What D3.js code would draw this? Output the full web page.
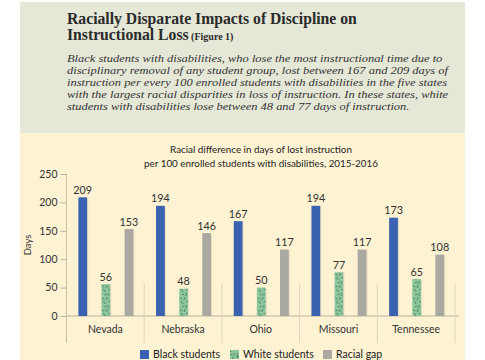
<!DOCTYPE html>
<html>
<head>
<meta charset="utf-8">
<script src="https://cdn.jsdelivr.net/npm/d3@7"></script>
<style>
  body { margin: 0; background: #fff; }
  svg { display: block; }
</style>
</head>
<body>
<div id="chart"></div>
<script>
// data
const states = ["Nevada", "Nebraska", "Ohio", "Missouri", "Tennessee"];
const black = [209, 194, 167, 194, 173];
const white = [56, 48, 50, 77, 65];
const gap = [153, 146, 117, 117, 108];
const yTicks = [0, 50, 100, 150, 200, 250];
const seriesNames = ["Black students", "White students", "Racial gap"];

const subtitle = [
  "Black students with disabilities, who lose the most instructional time due to",
  "disciplinary removal of any student group, lost between 167 and 209 days of",
  "instruction per every 100 enrolled students with disabilities in the five states",
  "with the largest racial disparities in loss of instruction. In these states, white",
  "students with disabilities lose between 48 and 77 days of instruction."
];

const W = 485, H = 360;
const sans = "Lato, 'Open Sans', sans-serif";
const serif = "'Liberation Serif', 'DejaVu Serif', serif";

const svg = d3.select("#chart").append("svg")
  .attr("width", W).attr("height", H);

// fit text to a target width
function fit(sel, w) {
  const n = sel.node();
  const fs = parseFloat(sel.attr("font-size"));
  const len = n.getComputedTextLength();
  sel.attr("font-size", fs * w / len);
}

// panels
svg.append("rect").attr("x", 20).attr("y", 2).attr("width", 445).attr("height", 131)
  .attr("fill", "#e5e7d7");
svg.append("rect").attr("x", 20).attr("y", 133).attr("width", 445).attr("height", 227)
  .attr("fill", "#fdf2d2");

// title
const t1 = svg.append("text").attr("x", 67).attr("y", 24)
  .attr("font-family", serif).attr("font-weight", "bold").attr("font-size", 16)
  .attr("fill", "#2a2a2a").text("Racially Disparate Impacts of Discipline on");
fit(t1, 290);
const t2 = svg.append("text").attr("x", 67).attr("y", 40)
  .attr("font-family", serif).attr("font-weight", "bold").attr("font-size", t1.attr("font-size"))
  .attr("fill", "#2a2a2a");
t2.append("tspan").text("Instructional Loss");
t2.append("tspan").attr("font-size", 10).text(" (Figure 1)");

// subtitle: fixed size, stretched horizontally to the reference width
const sub = svg.append("g");
const subLines = sub.selectAll("text").data(subtitle).enter().append("text")
  .attr("x", 0).attr("y", (d, i) => 62.5 + i * 11.8)
  .attr("font-family", serif).attr("font-style", "italic").attr("font-size", 11.2)
  .attr("fill", "#333").text(d => d);
const sx = 381 / subLines.nodes()[1].getComputedTextLength();
sub.attr("transform", `translate(67,0) scale(${sx},1)`);

// chart heading
const h1 = svg.append("text").attr("x", 261).attr("y", 153).attr("text-anchor", "middle")
  .attr("font-family", sans).attr("font-size", 9).attr("fill", "#1e1e1e")
  .text("Racial difference in days of lost instruction");
fit(h1, 182);
const h2 = svg.append("text").attr("x", 261).attr("y", 167).attr("text-anchor", "middle")
  .attr("font-family", sans).attr("font-size", h1.attr("font-size")).attr("fill", "#1e1e1e")
  .text("per 100 enrolled students with disabilities, 2015-2016");

// scales
const x0 = d3.scaleBand().domain(states).range([66.5, 455]).padding(0);
const x1 = d3.scaleBand().domain(seriesNames).range([0, 55]).paddingInner(0.62).paddingOuter(0);
const y = d3.scaleLinear().domain([0, 250]).range([316, 174]);
const colors = ["#3a62b1", "#8dc69c", "#a9a8a1"];

// pattern for the white students bars
const defs = svg.append("defs");
const pat = defs.append("pattern").attr("id", "speck").attr("patternUnits", "userSpaceOnUse")
  .attr("width", 12).attr("height", 12);
pat.append("rect").attr("width", 12).attr("height", 12).attr("fill", colors[1]);
const specks = [[1,1,3,4],[6,2,8,1],[9,5,10,9],[2,7,4,6],[5,9,4,12],[8,8,11,10],[0,10,2,11],[6,5,6,8]];
specks.forEach(s => pat.append("line").attr("x1", s[0]).attr("y1", s[1]).attr("x2", s[2]).attr("y2", s[3])
  .attr("stroke", "#3a7550").attr("stroke-width", 0.8));

// axes
const ax = svg.append("g").attr("transform", "translate(66.5,0)")
  .call(d3.axisLeft(y).tickValues(yTicks).tickSize(6).tickPadding(3));
ax.select(".domain").remove();
ax.selectAll("line").attr("stroke", "#b9b3a0");
ax.selectAll("text").attr("font-family", sans).attr("font-size", 10.5).attr("fill", "#333");
svg.append("line").attr("x1", 66.5).attr("x2", 66.5).attr("y1", 174).attr("y2", 343)
  .attr("stroke", "#c9c2ad");
svg.append("line").attr("x1", 66.5).attr("x2", 459).attr("y1", y(0)).attr("y2", y(0))
  .attr("stroke", "#b9b3a0");
svg.append("text").attr("transform", "translate(31,245) rotate(-90)").attr("text-anchor", "middle")
  .attr("font-family", sans).attr("font-size", 9.5).attr("fill", "#333").text("Days");

// category separators
svg.selectAll(".sep").data(states).enter().append("line")
  .attr("x1", d => x0(d) + x0.bandwidth())
  .attr("x2", d => x0(d) + x0.bandwidth())
  .attr("y1", 283).attr("y2", 343).attr("stroke", "#ddd6c0");

// bars
const rows = states.map((s, i) => ({ state: s, vals: [black[i], white[i], gap[i]] }));
const groups = svg.selectAll(".grp").data(rows).enter().append("g")
  .attr("transform", d => `translate(${x0(d.state) + (x0.bandwidth() - 55) / 2 + 0.5},0)`);

groups.selectAll(".shadow").data(d => d.vals).enter().append("rect")
  .attr("x", (d, i) => x1(seriesNames[i]) + 1.2).attr("y", d => y(d) + 1)
  .attr("width", x1.bandwidth()).attr("height", d => y(0) - y(d) - 1)
  .attr("fill", "#000").attr("opacity", 0.07);
groups.selectAll(".bar").data(d => d.vals).enter().append("rect")
  .attr("x", (d, i) => x1(seriesNames[i])).attr("y", d => y(d))
  .attr("width", x1.bandwidth()).attr("height", d => y(0) - y(d))
  .attr("fill", (d, i) => i === 1 ? "url(#speck)" : colors[i]);
groups.selectAll(".lbl").data(d => d.vals).enter().append("text")
  .attr("x", (d, i) => x1(seriesNames[i]) + x1.bandwidth() / 2).attr("y", d => y(d) - 3.5)
  .attr("text-anchor", "middle").attr("font-family", sans).attr("font-size", 10.8)
  .attr("fill", "#333").text(d => d);

// category labels
svg.selectAll(".cat").data(states).enter().append("text")
  .attr("x", d => x0(d) + x0.bandwidth() / 2).attr("y", 333)
  .attr("text-anchor", "middle").attr("font-family", sans).attr("font-size", 10.5)
  .attr("fill", "#333").text(d => d);

// legend
const legX = [140, 230, 323];
seriesNames.forEach((n, i) => {
  svg.append("rect").attr("x", legX[i]).attr("y", 350).attr("width", 9).attr("height", 9)
    .attr("fill", i === 1 ? "url(#speck)" : colors[i]);
  svg.append("text").attr("x", legX[i] + 13).attr("y", 358)
    .attr("font-family", sans).attr("font-size", 10.5).attr("fill", "#222").text(n);
});
</script>
</body>
</html>
